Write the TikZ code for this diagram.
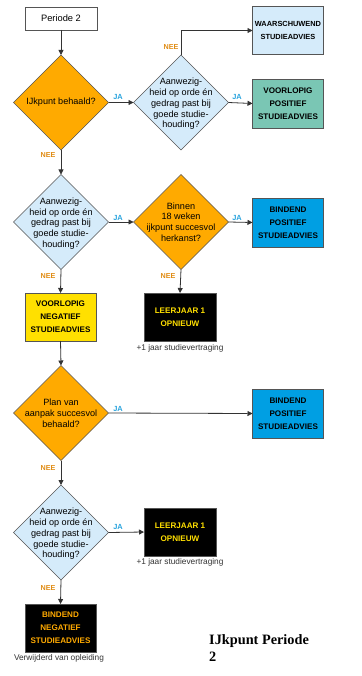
\documentclass[tikz,border=0pt]{standalone}
\usepackage{fontspec}
\setmainfont{Liberation Sans}
\newfontfamily\titlefont{Liberation Serif}
\usetikzlibrary{shapes.geometric,arrows.meta}
\definecolor{orng}{HTML}{FFAA00}
\definecolor{lblue}{HTML}{D5EBFA}
\definecolor{tealc}{HTML}{7AC6B4}
\definecolor{bblue}{HTML}{009FE3}
\definecolor{yell}{HTML}{FFE000}
\definecolor{jacol}{HTML}{2AA4DE}
\definecolor{neecol}{HTML}{E08C14}
\definecolor{edge}{HTML}{555555}
\definecolor{linec}{HTML}{333333}
\begin{document}
\begin{tikzpicture}[x=1pt,y=-1pt,
  dia/.style={shape=diamond,draw=edge,line width=0.6pt,minimum width=95pt,minimum height=95pt,inner sep=0pt,outer sep=0pt},
  diatext/.style={align=center,font=\fontsize{9.1}{10.8}\selectfont,inner sep=0pt},
  box/.style={draw=edge,line width=0.6pt,minimum width=71pt,minimum height=48pt,inner sep=0pt,outer sep=0pt,align=center,font=\fontsize{8.1}{12.8}\selectfont\bfseries},
  arr/.style={draw=linec,line width=0.8pt,-{Triangle[length=5pt,width=5pt]}},
  ja/.style={text=jacol,font=\fontsize{7.4}{8}\selectfont\bfseries,inner sep=0pt},
  nee/.style={text=neecol,font=\fontsize{7.2}{8}\selectfont\bfseries,inner sep=0pt},
  capt/.style={text=linec,font=\fontsize{8.3}{9}\selectfont,inner sep=0pt}]
\useasboundingbox (0,0) rectangle (361,676);
\fill[white] (0,0) rectangle (361,676);

% start
\node[draw=edge,line width=0.6pt,fill=white,minimum width=72pt,minimum height=23pt,inner sep=0pt,outer sep=0pt,font=\fontsize{9.3}{10}\selectfont] (start) at (61,18.5) {Periode 2};

% row 1
\node[dia,fill=orng] (d1) at (61,102.5) {};
\node[diatext] at (d1) {IJkpunt behaald?};
\node[dia,fill=lblue] (d2) at (181,102.5) {};
\node[diatext] at (181,104) {Aanwezig-\\heid op orde én\\gedrag past bij\\goede studie-\\houding?};
\node[box,fill=lblue,font=\fontsize{7.4}{12.8}\selectfont\bfseries] (warn) at (288,30.5) {WAARSCHUWEND\\STUDIEADVIES};
\node[box,fill=tealc,minimum height=49pt] (vpos) at (288,103.5) {VOORLOPIG\\POSITIEF\\STUDIEADVIES};

\draw[arr] (start) -- (d1);
\draw[arr] (d1.east) -- (d2.west);
\draw[arr] (d2.north) |- (warn.west);
\draw[arr] (d2.east) -- (vpos.west);
\node[ja] at (118,97) {JA};
\node[nee] at (171,47) {NEE};
\node[ja] at (237,97) {JA};

% row 2
\node[dia,fill=lblue] (d3) at (61,222) {};
\node[diatext] at (61,223.5) {Aanwezig-\\heid op orde én\\gedrag past bij\\goede studie-\\houding?};
\node[dia,fill=orng] (d4) at (181,222) {};
\node[diatext] at (181,222) {Binnen\\18 weken\\ijkpunt succesvol\\herkanst?};
\node[box,fill=bblue,minimum height=49pt] (bpos1) at (288,222.5) {BINDEND\\POSITIEF\\STUDIEADVIES};
\draw[arr] (d1.south) -- (d3.north);
\node[nee] at (48,155) {NEE};
\draw[arr] (d3.east) -- (d4.west);
\node[ja] at (118,218) {JA};
\draw[arr] (d4.east) -- (bpos1.west);
\node[ja] at (237,218) {JA};

% row 3
\node[box,fill=yell] (vneg) at (60.5,317) {VOORLOPIG\\NEGATIEF\\STUDIEADVIES};
\node[box,fill=black,text=yell,minimum width=72pt] (leer1) at (180,317) {LEERJAAR 1\\OPNIEUW};
\node[capt] at (180,348.5) {+1 jaar studievertraging};
\draw[arr] (d3.south) -- (vneg.north);
\node[nee] at (48,276) {NEE};
\draw[arr] (d4.south) -- (leer1.north);
\node[nee] at (168,276) {NEE};

% row 4
\node[dia,fill=orng] (d5) at (61,413) {};
\node[diatext] at (61,413.5) {Plan van\\aanpak succesvol\\behaald?};
\node[box,fill=bblue,minimum height=49pt] (bpos2) at (288,413.5) {BINDEND\\POSITIEF\\STUDIEADVIES};
\draw[arr] (vneg.south) -- (d5.north);
\draw[arr] (d5.east) -- (bpos2.west);
\node[ja] at (118,409) {JA};

% row 5
\node[dia,fill=lblue] (d6) at (61,532.5) {};
\node[diatext] at (61,534) {Aanwezig-\\heid op orde én\\gedrag past bij\\goede studie-\\houding?};
\node[box,fill=black,text=yell,minimum width=72pt] (leer2) at (180,532) {LEERJAAR 1\\OPNIEUW};
\node[capt] at (180,562.5) {+1 jaar studievertraging};
\draw[arr] (d5.south) -- (d6.north);
\node[nee] at (48,468) {NEE};
\draw[arr] (d6.east) -- (leer2.west);
\node[ja] at (118,527) {JA};

% end
\node[box,fill=black,text=orng] (bneg) at (60.5,628) {BINDEND\\NEGATIEF\\STUDIEADVIES};
\node[capt] at (59,658) {Verwijderd van opleiding};
\draw[arr] (d6.south) -- (bneg.north);
\node[nee] at (48,588) {NEE};

% title
\node[anchor=north west,align=left,inner sep=0pt,font=\titlefont\bfseries\fontsize{14.3}{17}\selectfont] (title) at (209,634) {IJkpunt Periode\\2};
\end{tikzpicture}
\end{document}
